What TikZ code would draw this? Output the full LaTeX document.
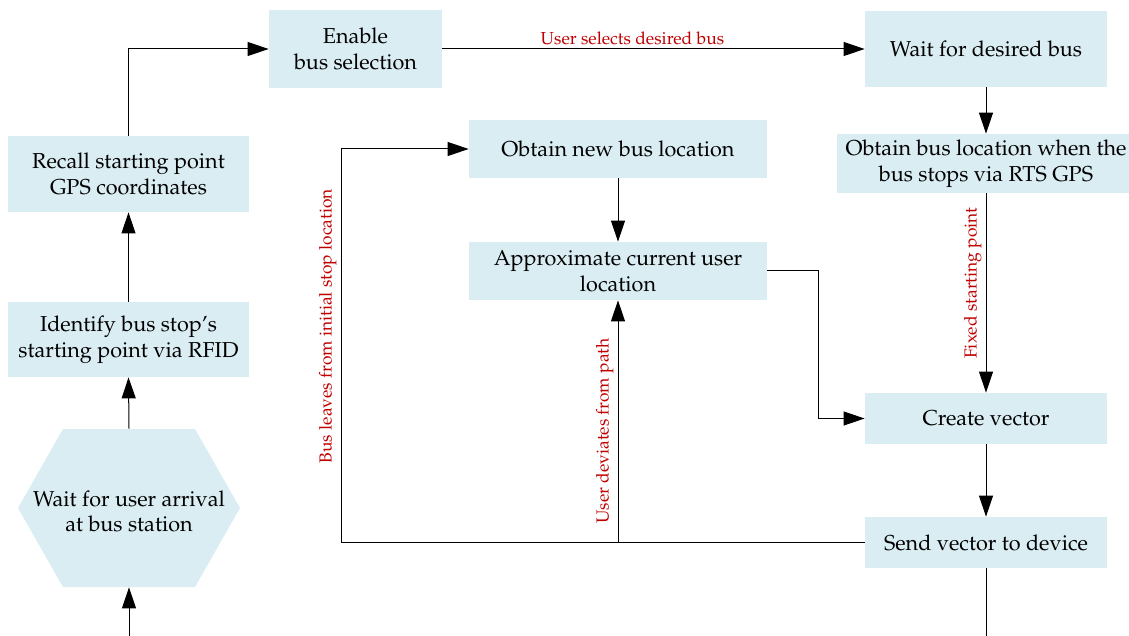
\documentclass[tikz,border=0pt]{standalone}
\usepackage[T1]{fontenc}
\usepackage{mathpazo}
\usetikzlibrary{arrows.meta}
\definecolor{boxfill}{RGB}{218,237,243}
\definecolor{lblred}{RGB}{192,0,0}
\begin{document}
\begin{tikzpicture}[x=0.5pt,y=-0.5pt,
  box/.style={fill=boxfill, draw=none, inner sep=0pt, align=center, font=\fontsize{10.8}{13}\selectfont},
  hexbox/.style={draw=none, inner sep=0pt, align=center, font=\fontsize{10.8}{13}\selectfont},
  arr/.style={-{Triangle[length=10.5pt,width=7pt]}, line width=0.5pt},
  ln/.style={line width=0.5pt},
  lbl/.style={text=lblred, font=\fontsize{8.7}{10}\selectfont, inner sep=2pt}]
\clip (0,0) rectangle (1129,636);
% nodes
\node[box, minimum width=86.5pt, minimum height=39pt] (en) at (355.5,49) {Enable\\bus selection};
\node[box, minimum width=121pt, minimum height=38pt] (wd) at (986,49) {Wait for desired bus};
\node[box, minimum width=120.5pt, minimum height=38pt] (rec) at (128.5,174) {Recall starting point\\GPS coordinates};
\node[box, minimum width=120.5pt, minimum height=37.5pt] (idf) at (128.5,339.5) {Identify bus stop's\\starting point via RFID};
\fill[boxfill] (63,429) -- (195,429) -- (240,508) -- (195,587) -- (63,587) -- (18,508) -- cycle;
\node[hexbox, minimum width=111pt, minimum height=79pt] (hex) at (129,508)
  {\raisebox{-3pt}[\height][\depth]{\begin{tabular}{@{}c@{}}Wait for user arrival\\[-0.4pt]at bus station\end{tabular}}};
\node[box, minimum width=149pt, minimum height=29pt] (obn) at (618,149) {Obtain new bus location};
\node[box, minimum width=149pt, minimum height=29pt] (apx) at (618,271) {Approximate current user\\location};
\node[box, minimum width=149pt, minimum height=29.5pt] (obl) at (986,163.5) {Obtain bus location when the\\bus stops via RTS GPS};
\node[box, minimum width=121pt, minimum height=25.5pt] (cv) at (986,418.5) {Create vector};
\node[box, minimum width=121pt, minimum height=25.5pt] (snd) at (986,542.5) {Send vector to device};
% helper coordinates
\coordinate (in0) at (129,645);
\coordinate (out0) at (986,645);
\coordinate (j1) at (818,271);
\coordinate (j2) at (341,542.5);
\coordinate (j3) at (341,149);
\coordinate (j4) at (618,542.5);
% connectors
\draw[arr] (in0) -- (hex.south);
\draw[arr] (hex.north) -- (idf.south);
\draw[arr] (idf.north) -- (rec.south);
\draw[arr] (rec.north) |- (en.west);
\draw[arr] (en.east) -- node[lbl, above, pos=0.45] {User selects desired bus} (wd.west);
\draw[arr] (wd.south) -- (obl.north);
\draw[arr] (obl.south) -- node[lbl, rotate=90, anchor=south, pos=0.45] {Fixed starting point} (cv.north);
\draw[arr] (cv.south) -- (snd.north);
\draw[ln] (snd.south) -- (out0);
\draw[arr] (snd.west) -- (j2) -- node[lbl, rotate=90, anchor=south, pos=0.55] {Bus leaves from initial stop location} (j3) -- (obn.west);
\draw[arr] (j4) -- node[lbl, rotate=90, anchor=south, pos=0.46] {User deviates from path} (apx.south);
\draw[arr] (obn.south) -- (apx.north);
\draw[arr] (apx.east) -- (j1) |- (cv.west);
\end{tikzpicture}
\end{document}
